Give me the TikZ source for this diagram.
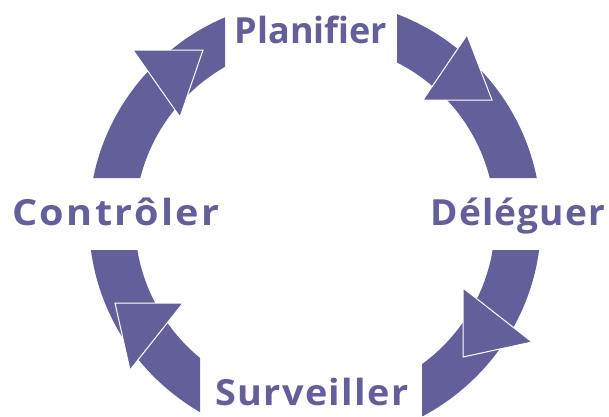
\documentclass[tikz,border=0pt]{standalone}
\usepackage{fontspec}
\setmainfont{Open Sans}
\definecolor{cyc}{HTML}{635F9A}
\begin{document}
\begin{tikzpicture}[x=1pt,y=-1pt,
  tip/.style={fill=cyc, draw=white, line width=1pt, line join=miter},
  lbl/.style={text=cyc, font=\fontsize{36}{40}\selectfont\bfseries, inner sep=0pt, anchor=base}]
\useasboundingbox (0,0) rectangle (609,416);
\coordinate (c) at (315,221);
% ring, cut into four arcs around the labels
\begin{scope}
  \clip (0,0) rectangle (225,178) (397,0) rectangle (609,178)
        (0,250) rectangle (200,416) (422,250) rectangle (609,416);
  \fill[cyc, even odd rule] (c) ellipse [x radius=226, y radius=222]
                            (c) ellipse [x radius=180, y radius=178];
\end{scope}
% arrow heads
\draw[tip] (467,35) -- (423,100) -- (492,100) -- cycle;
\draw[tip] (463,288) -- (532,342) -- (463,357) -- cycle;
\draw[tip] (115,303) -- (183,303) -- (130,370) -- cycle;
\draw[tip] (133,50) -- (203,50) -- (180,117) -- cycle;
% labels
\node[lbl] (plan) at (311,43) {Planifier};
\node[lbl] (dele) at (518,225) {\scalebox{1.03}[1]{\addfontfeature{LetterSpace=3}Déléguer}};
\node[lbl] (surv) at (312,405) {\scalebox{1.05}[1]{\addfontfeature{LetterSpace=3.5}Surveiller}};
\node[lbl] (ctrl) at (116,225) {\scalebox{1.1}[1]{\addfontfeature{LetterSpace=6}Contrôler}};
\end{tikzpicture}
\end{document}
